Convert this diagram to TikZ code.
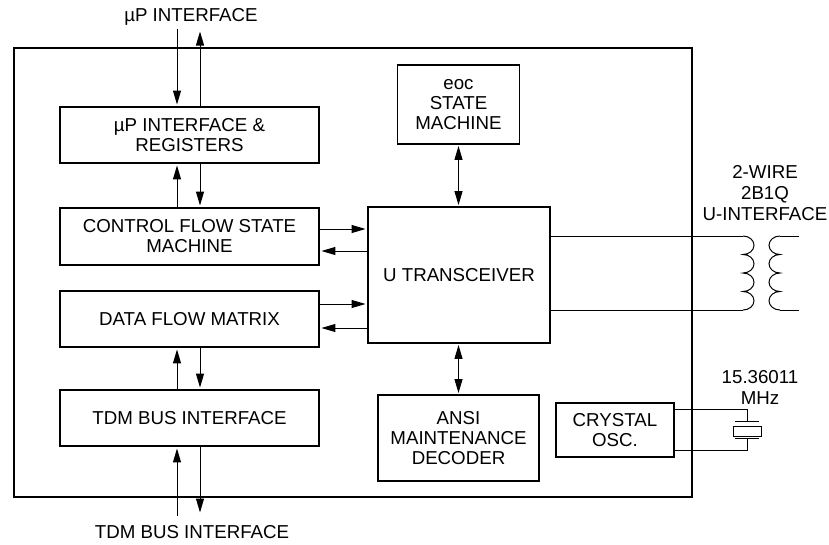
\documentclass[tikz,border=0pt]{standalone}
\usepackage{fontspec}
\setmainfont{Liberation Sans}
\usetikzlibrary{arrows.meta, positioning, calc}

\begin{document}
\begin{tikzpicture}[
    x=1pt,
    y=-1pt,
    block/.style={
        draw,
        line width=1.9pt,
        inner sep=0pt,
        font=\fontsize{18.7}{20}\selectfont,
        align=center
    },
    caption/.style={
        inner sep=0pt,
        font=\fontsize{18.7}{21}\selectfont,
        align=center
    },
    arrow/.style={
        -{Triangle[length=14pt, width=8pt]},
        line width=1pt,
        shorten >=1.5pt
    },
    twoway/.style={
        {Triangle[length=14pt, width=8pt]}-{Triangle[length=14pt, width=8pt]},
        line width=1pt,
        shorten >=1pt,
        shorten <=1pt
    },
    wire/.style={
        line width=1pt
    }
]
\useasboundingbox (0, 0) rectangle (829, 544);

% Chip outline
\node[block, minimum width=678pt, minimum height=449pt] (chip) at (353, 272.5) {};

% Left column
\node[block, minimum width=259pt, minimum height=56pt] (regs) at (189.5, 135) {µP INTERFACE \&\\REGISTERS};
\node[block, minimum width=259pt, minimum height=57pt] (ctrl) at (189.5, 236.5) {CONTROL FLOW STATE\\MACHINE};
\node[block, minimum width=259pt, minimum height=56pt] (data) at (189.5, 319) {DATA FLOW MATRIX};
\node[block, minimum width=259pt, minimum height=56pt] (tdm) at (189.5, 418) {TDM BUS INTERFACE};

% Middle column
\node[block, minimum width=122pt, minimum height=79pt] (eoc) at (458.5, 104.5) {eoc\\STATE\\MACHINE};
\node[block, minimum width=182pt, minimum height=136pt] (xcvr) at (459, 275) {U TRANSCEIVER};
\node[block, minimum width=161pt, minimum height=86pt] (ansi) at (458.5, 438) {ANSI\\MAINTENANCE\\DECODER};
\node[block, minimum width=118pt, minimum height=54pt] (osc) at (615, 430) {CRYSTAL\\OSC.};

% Outside labels
\node[caption] (uplabel) at (191, 17) {µP INTERFACE};
\node[caption] (tdmlabel) at (192, 532) {TDM BUS INTERFACE};
\node[caption] (ulabel) at (765, 193) {2-WIRE\\2B1Q\\U-INTERFACE};
\node[caption] (xtallabel) at (760, 387) {15.36011\\MHz};

% Bus columns
\coordinate (lx) at (177, 0);
\coordinate (rx) at (200, 0);
\coordinate (upin) at (177, 29);
\coordinate (upout) at (200, 30);
\coordinate (tdmin) at (177, 516);
\coordinate (tdmout) at (200, 514);

% Vertical arrows, left column
\draw[arrow] (upin) -- (regs.north -| lx);
\draw[arrow] (regs.north -| rx) -- (upout);
\draw[arrow] (ctrl.north -| lx) -- (regs.south -| lx);
\draw[arrow] (regs.south -| rx) -- (ctrl.north -| rx);
\draw[arrow] (tdm.north -| lx) -- (data.south -| lx);
\draw[arrow] (data.south -| rx) -- (tdm.north -| rx);
\draw[arrow] (tdmin) -- (tdm.south -| lx);
\draw[arrow] (tdm.south -| rx) -- (tdmout);

% Horizontal arrows to transceiver
\coordinate (ctrlhi) at (0, 229);
\coordinate (ctrllo) at (0, 251);
\coordinate (datahi) at (0, 304);
\coordinate (datalo) at (0, 328);
\draw[arrow] (ctrl.east |- ctrlhi) -- (xcvr.west |- ctrlhi);
\draw[arrow] (xcvr.west |- ctrllo) -- (ctrl.east |- ctrllo);
\draw[arrow] (data.east |- datahi) -- (xcvr.west |- datahi);
\draw[arrow] (xcvr.west |- datalo) -- (data.east |- datalo);

% Two-way arrows, middle column
\draw[twoway] (eoc.south) -- (xcvr.north -| eoc.south);
\draw[twoway] (xcvr.south -| ansi.north) -- (ansi.north);

% Transformer
\coordinate (coilA) at (743, 236);
\coordinate (coilB) at (743, 310);
\coordinate (coilC) at (780, 236);
\coordinate (coilD) at (780, 310);
\coordinate (endC) at (799, 236);
\coordinate (endD) at (799, 310);
\draw[wire] (xcvr.east |- coilA) -- (coilA);
\draw[wire] (xcvr.east |- coilB) -- (coilB);
\draw[wire] (coilA)
    \foreach \n in {1, 2, 3, 4} {
        arc[start angle=90, end angle=-90, x radius=11, y radius=-9.25]
    };
\draw[wire] (coilC)
    \foreach \n in {1, 2, 3, 4} {
        arc[start angle=90, end angle=270, x radius=11, y radius=-9.25]
    };
\draw[wire] (endC) -- (coilC);
\draw[wire] (endD) -- (coilD);

% Crystal
\node[draw, line width=1.1pt, minimum width=28pt, minimum height=10.5pt, inner sep=0pt] (xtal) at (747.5, 431.5) {};
\coordinate (platetop) at (747, 421);
\coordinate (platebot) at (747, 438.5);
\coordinate (xtalhi) at (0, 409.5);
\coordinate (xtallo) at (0, 450.5);
\draw[wire] (osc.east |- xtalhi) -| (platetop);
\draw[wire] (osc.east |- xtallo) -| (platebot);
\draw[wire] ($(platetop)+(-12, 0)$) -- ($(platetop)+(12, 0)$);
\draw[wire] ($(platebot)+(-12, 0)$) -- ($(platebot)+(12, 0)$);

\end{tikzpicture}
\end{document}
